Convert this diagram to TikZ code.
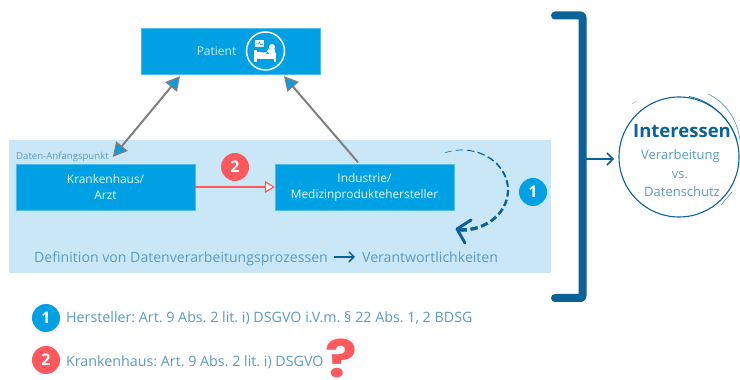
\documentclass[tikz,border=0pt]{standalone}
\usepackage{fontspec}
\setmainfont{Open Sans}
\newfontfamily\markfont{Poppins}
\usetikzlibrary{arrows.meta}
\definecolor{boxblue}{HTML}{00A1E4}
\definecolor{bandblue}{HTML}{C9E7F6}
\definecolor{darkblue}{HTML}{0B6299}
\definecolor{textblue}{HTML}{5A9AC4}
\definecolor{redmark}{HTML}{FF595E}
\definecolor{arrowgray}{HTML}{7F7F7F}
\frenchspacing
\tikzset{
  bluebox/.style={draw=boxblue!70!white,fill=boxblue,text=white!90!boxblue,minimum width=179bp,minimum height=46bp,inner sep=0pt,align=center,font=\fontsize{11.9bp}{16bp}\selectfont},
  numdot/.style={circle,fill=#1,text=white,minimum size=28bp,inner sep=0pt,font=\bfseries\fontsize{16bp}{16bp}\selectfont},
  bigtext/.style={text=textblue,inner sep=0pt,font=\fontsize{14.1bp}{14bp}\selectfont},
  legendtext/.style={text=textblue,inner sep=0pt,font=\fontsize{14.27bp}{14bp}\selectfont},
  midtext/.style={text=textblue,inner sep=0pt,font=\fontsize{13bp}{14bp}\selectfont},
  grayarrow/.style={draw=arrowgray,line width=2bp},
  graytip/.tip={Triangle[length=14bp,width=15bp,fill=boxblue,line width=1.5bp]},
}
\begin{document}
\begin{tikzpicture}[>=latex,line join=bevel,]
\useasboundingbox (0bp,0bp) rectangle (740bp,380bp);
%%
\node (band) at (280bp,173.5bp) [fill=bandblue,minimum width=542bp,minimum height=133bp,inner sep=0pt] {};
  \node (patient) at (230.5bp,329bp) [bluebox] {};
  \node (patientlabel) at (216.5bp,329bp) [text=white!80!boxblue,inner sep=0pt,font=\fontsize{12bp}{12bp}\selectfont] {Patient};
  \node (krankenhaus) at (105.5bp,193bp) [bluebox] {Krankenhaus/\\Arzt};
  \node (industrie) at (364.5bp,193bp) [bluebox] {Industrie/\\Medizinproduktehersteller};
  \node (anfang) at (16bp,220bp) [anchor=base west,text=textblue,inner sep=0pt,font=\fontsize{9.6bp}{10bp}\selectfont] {Daten-Anfangspunkt};
  \node (two) at (235bp,213bp) [numdot=redmark] {2};
  \node (one) at (533bp,188bp) [numdot=boxblue] {1};
  \node (definition) at (34bp,117.5bp) [anchor=base west,bigtext] {Definition von Datenverarbeitungsprozessen};
  \node (verant) at (362bp,117.5bp) [anchor=base west,bigtext] {Verantwortlichkeiten};
  \node (legendone) at (46bp,62bp) [numdot=boxblue] {1};
  \node (legendtwo) at (46bp,20bp) [numdot=redmark] {2};
  \node (herstellertext) at (66bp,57bp) [anchor=base west,legendtext] {Hersteller: Art. 9 Abs. 2 lit. i) DSGVO i.V.m. § 22 Abs. 1, 2 BDSG};
  \node (khtext) at (66bp,14bp) [anchor=base west,legendtext] {Krankenhaus: Art. 9 Abs. 2 lit. i) DSGVO};
  \node (question) at (341.5bp,21.5bp) [text=redmark,inner sep=0pt,xscale=1.13,transform shape,font=\markfont\bfseries\fontsize{52bp}{52bp}\selectfont] {?};
%%
  \node (interessen) at (679bp,223bp) [circle,draw=darkblue,line width=1.1bp,minimum size=120bp,inner sep=0pt] {};
  \node (intertitle) at (682bp,249bp) [text=darkblue,inner sep=0pt,font=\bfseries\fontsize{18.5bp}{18bp}\selectfont] {Interessen};
  \node (verarbeitung) at (680.5bp,224bp) [midtext] {Verarbeitung};
  \node (vs) at (680bp,205bp) [midtext] {vs.};
  \node (datenschutz) at (682bp,188bp) [midtext] {Datenschutz};
  \draw [darkblue!70,line width=.6bp] (708bp,286bp) .. controls (725bp,278bp) and (737bp,262bp) .. (740bp,240bp);
  \draw [darkblue,line width=.7bp] (689bp,283.5bp) .. controls (710bp,280bp) and (730bp,262bp) .. (737bp,240bp);
  \draw [darkblue!50,line width=.5bp] (632bp,276bp) -- (636bp,279bp);
  \draw [darkblue!70,line width=.6bp] (721bp,175bp) -- (732bp,188bp);
%%
  \draw [grayarrow,{graytip}-{graytip}] ([shift={(7.5bp,7bp)}]krankenhaus.north) -- ([shift={(-50.5bp,-2bp)}]patient.south);
  \draw [grayarrow,-{graytip}] ([shift={(-6.5bp,1.5bp)}]industrie.north) -- ([shift={(53.5bp,-2bp)}]patient.south);
  \draw [redmark,line width=1.2bp,-{Triangle[length=10bp,width=12bp,fill=white,line width=1.2bp]}] (krankenhaus.east) -- (industrie.west);
  \draw [darkblue,line width=1.5bp,-{Straight Barb[length=5bp,width=10bp,line width=1.5bp]}] ([shift={(6bp,2bp)}]definition.east) -- ([shift={(-7bp,2bp)}]verant.west |- definition.east);
%% the dashes get thicker towards the head
  \coordinate (loopc) at (462bp,190bp);
  \foreach \a in {112,98,84,70,56,42,28,14,0,-14,-28,-42,-56,-70,-84} {
    \pgfmathsetmacro{\w}{0.5+(112-\a)*0.0155}
    \draw [darkblue,line width=\w bp] ([shift={(\a:46bp and 40bp)}]loopc) arc[start angle=\a,delta angle=-9.5,x radius=46bp,y radius=40bp];
  }
  \coordinate (loopend) at (457bp,151bp);
  \draw [darkblue,line width=3bp,line cap=round] (471bp,160bp) -- (loopend) -- (465bp,137bp);
%%
  \coordinate (brackettop) at (555bp,364.5bp);
  \coordinate (bracketbot) at (555bp,82bp);
  \coordinate (bracketmid) at (583bp,221bp);
  \draw [darkblue,line width=8bp,rounded corners=2bp,line cap=round] (brackettop) -- (582.5bp,364.5bp) -- (582.5bp,82bp) -- (bracketbot);
  \draw [darkblue,line width=1.5bp,-{Straight Barb[length=6bp,width=12bp,line width=1.5bp]}] (bracketmid) -- (614bp,221bp);
%% bed icon
  \node (bedring) at (265.5bp,329bp) [circle,draw=white,line width=1.5bp,minimum size=38bp,inner sep=0pt] {};
  \fill [white] (255bp,333bp) rectangle (264bp,340bp);
  \draw [boxblue,line width=.5bp] (256bp,336bp) -- (258.5bp,336bp) -- (259.5bp,338bp) -- (260.5bp,335bp) -- (263bp,336bp);
  \fill [white] (272bp,333bp) circle (3bp);
  \fill [white] (254bp,318bp) rectangle (256.5bp,330bp);
  \fill [white] (273.5bp,318bp) rectangle (276bp,327bp);
  \fill [white] (254bp,321bp) rectangle (276bp,326bp);
  \fill [white] (256bp,326bp) -- (266bp,326bp) -- (268bp,331bp) -- (274.5bp,331bp) -- (276bp,325bp) -- (270bp,325bp) -- (268bp,328bp) -- (266bp,327.5bp) -- (256bp,328bp) -- cycle;
%
\end{tikzpicture}
\end{document}
